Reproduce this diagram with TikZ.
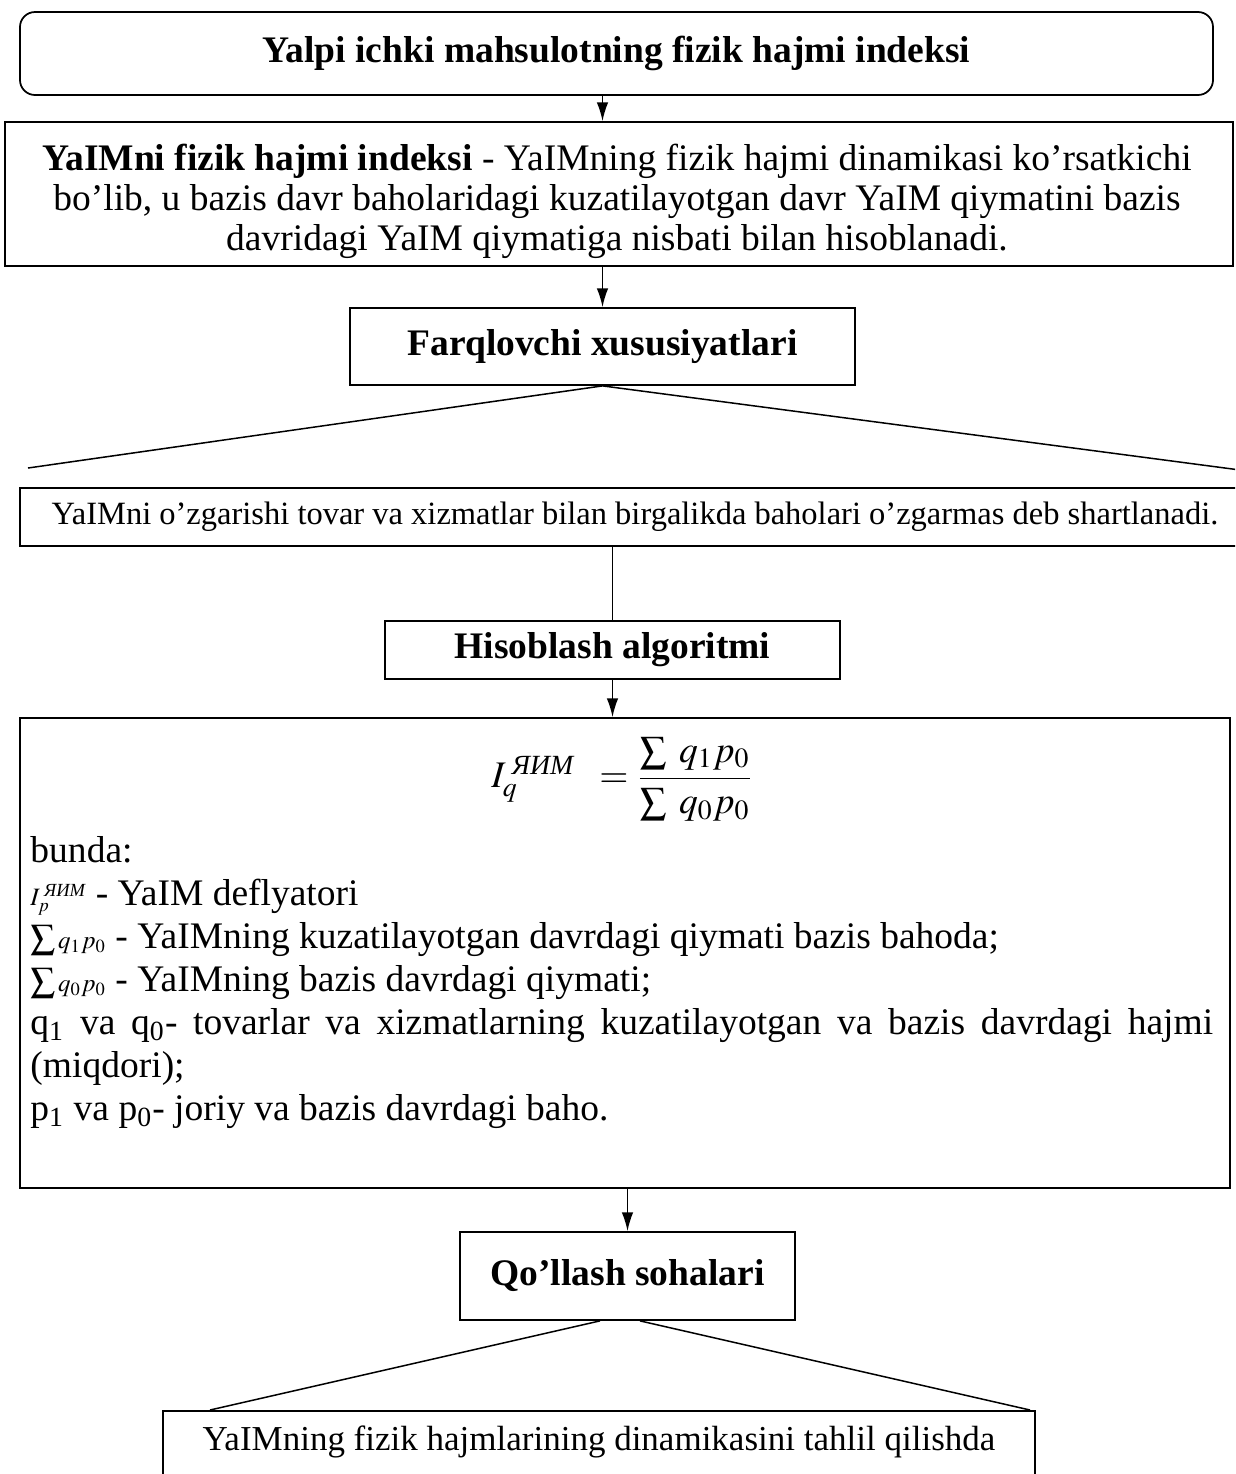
\documentclass[tikz,border=0pt]{standalone}
\usepackage{amsmath}
\usepackage{mathptmx}
\usepackage{fontspec}
\setmainfont{Liberation Serif}
\usetikzlibrary{arrows.meta}
\newcommand{\yaim}{\text{\itshape ЯИМ}}

\begin{document}
\begin{tikzpicture}[x=0.4pt, y=-0.4pt, every node/.style={font=\fontsize{15}{16}\selectfont}]
\tikzset{box/.style={draw, line width=0.7pt, align=center, inner sep=0pt},
  head/.style={box, font=\fontsize{15}{16}\selectfont\bfseries},
  arr/.style={-{Latex[length=7.5pt,width=4.6pt]}, line width=0.6pt},
  ln/.style={line width=0.6pt}}
\clip (0,0) rectangle (1235,1474);
% boxes, top to bottom
\node[head, rounded corners=6pt, minimum width=477.2pt, minimum height=33.2pt] (title) at (616.5,53.5) {Yalpi ichki mahsulotning fizik hajmi indeksi};
\node[box, minimum width=491.2pt, minimum height=57.6pt] (defn) at (619,194) {};
\node[align=center, inner sep=0pt] (defntext) at (617,201) {\textbf{YaIMni fizik hajmi indeksi} - YaIMning fizik hajmi dinamikasi ko’rsatkichi\\bo’lib, u bazis davr baholaridagi kuzatilayotgan davr YaIM qiymatini bazis\\davridagi YaIM qiymatiga nisbati bilan hisoblanadi.};
\node[head, minimum width=202pt, minimum height=30.8pt] (feat) at (602.5,346.5) {Farqlovchi xususiyatlari};
\node[box, minimum width=492pt, minimum height=23.2pt, font=\fontsize{13}{14}\selectfont] (cond) at (635,517) {YaIMni o’zgarishi tovar va xizmatlar bilan birgalikda baholari o’zgarmas deb shartlanadi.};
\node[head, minimum width=182pt, minimum height=23.2pt] (algo) at (612.5,650) {Hisoblash algoritmi};
\node[box, minimum width=484pt, minimum height=188pt] (calc) at (625,953) {};
\node[head, minimum width=134pt, minimum height=35.2pt] (use) at (627.5,1276) {Qo’llash sohalari};
\node[box, anchor=north, minimum width=348.8pt, inner ysep=6.5pt, text height=9.5pt, text depth=24pt, font=\fontsize{14}{16}\selectfont] (anal) at (599,1410) {YaIMning fizik hajmlarining dinamikasini tahlil qilishda};
% formula and notation
\node[font=\fontsize{15}{18}\selectfont] (formula) at (622,779) {$I_q^{\;\yaim}\;\; = \dfrac{\textstyle\sum\; q_1 p_0}{\textstyle\sum\; q_0 p_0}$};
\node[anchor=north west, inner sep=0pt, align=justify, text width=473pt,
  font=\fontsize{15}{17.2}\selectfont] (notes) at (30,836) {\lineskiplimit=-20pt
bunda:\\
{\fontsize{10}{12}\selectfont$I_p^{\;\yaim}$} - YaIM deflyatori\\
{\fontsize{14}{12}\selectfont$\sum$\fontsize{10}{12}\selectfont$\,q_1 p_0$} - YaIMning kuzatilayotgan davrdagi qiymati bazis bahoda;\\
{\fontsize{14}{12}\selectfont$\sum$\fontsize{10}{12}\selectfont$\,q_0 p_0$} - YaIMning bazis davrdagi qiymati;\\
q\textsubscript{1} va q\textsubscript{0}- tovarlar va xizmatlarning kuzatilayotgan va bazis davrdagi hajmi\linebreak (miqdori);\\
p\textsubscript{1} va p\textsubscript{0}- joriy va bazis davrdagi baho.};
% connectors
\coordinate (fl) at (28,468);
\coordinate (fr) at (1240,470);
\coordinate (ul) at (210,1410);
\coordinate (ur) at (1030,1410);
\draw[arr] (feat.north |- title.south) -- (feat.north |- defn.north);
\draw[arr] (feat.north |- defn.south) -- (feat.north);
\draw[ln] (fl) -- (feat.south) -- (fr);
\draw[ln] (algo.north |- cond.south) -- (algo.north);
\draw[arr] (algo.south) -- (algo.south |- calc.north);
\draw[arr] (use.north |- calc.south) -- (use.north);
\draw[ln] ([xshift=-11pt]use.south) -- (ul);
\draw[ln] ([xshift=5pt]use.south) -- (ur);
\end{tikzpicture}
\end{document}
